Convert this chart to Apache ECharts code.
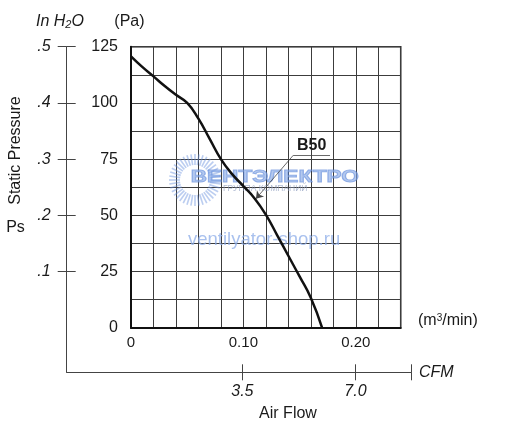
<!DOCTYPE html>
<html><head><meta charset="utf-8">
<script src="https://cdn.jsdelivr.net/npm/echarts@6/dist/echarts.min.js"></script>
<style>html,body{margin:0;padding:0;background:#fff}#c{width:515px;height:434px}</style>
</head><body><div id="c"></div>
<script>
// ---- data ----
const flow     = [0, 0.01, 0.02, 0.03, 0.04, 0.05, 0.06, 0.07, 0.08, 0.09, 0.10, 0.11, 0.12, 0.13, 0.14, 0.15, 0.16, 0.17];
const pressure = [120.7, 116.0, 111.8, 107.5, 103.6, 100.0, 93.0, 84.0, 75.0, 68.3, 63.0, 57.5, 50.3, 41.2, 32.0, 22.8, 13.3, 0.0];
const seriesName = 'B50';
const flowTickLabels = [0, 0.10, 0.20];          // m3/min
const paTickLabels = [0, 25, 50, 75, 100, 125];  // Pa
const inH2OTickLabels = [0.1, 0.2, 0.3, 0.4, 0.5];
const cfmTickLabels = [3.5, 7.0];

const FONT = 'Liberation Sans, Arial, Helvetica, sans-serif';
const TXT = '#1a1a1a';

const chart = echarts.init(document.getElementById('c'), null, {renderer: 'canvas'});

const curve = flow.map((f, i) => [f, pressure[i]]);

const outerX = {min: -1.94, max: 8.73};
const outerY = {min: -0.0788, max: 0.5};
const cfmTicks = cfmTickLabels.concat([outerX.max]);

// watermark sunburst rays (decoration)
const rays = [];
for (let a = 0; a < 360; a += 9) {
  const r = a * Math.PI / 180;
  rays.push({type: 'line', z: 1, silent: true,
    shape: {x1: 195 + 15 * Math.cos(r), y1: 180 + 15 * Math.sin(r), x2: 195 + 26 * Math.cos(r), y2: 180 + 26 * Math.sin(r)},
    style: {stroke: 'rgba(105,145,222,0.45)', lineWidth: 1.6}});
}

const option = {
  animation: false,
  backgroundColor: '#fff',
  grid: [
    {left: 131, top: 46.7, width: 269.7, height: 281, show: true, borderColor: '#111', borderWidth: 1.5, backgroundColor: 'transparent'},
    {left: 66.7, top: 46.7, width: 344.6, height: 325.6},
    {left: 66.7, top: 46.7, width: 344.6, height: 325.6}
  ],
  xAxis: [
    {type: 'value', gridIndex: 0, min: 0, max: 0.24, interval: 0.02,
      axisLine: {show: true, onZero: false, lineStyle: {color: '#111', width: 2}},
      axisTick: {show: false},
      axisLabel: {customValues: flowTickLabels, formatter: v => v === 0 ? '0' : v.toFixed(2), margin: 8, fontSize: 15, color: TXT, fontFamily: FONT},
      splitLine: {show: true, lineStyle: {color: '#3c3c3c', width: 1}}},
    {type: 'value', gridIndex: 1, min: outerX.min, max: outerX.max,
      axisLine: {show: true, onZero: false, lineStyle: {color: '#444', width: 1}},
      axisTick: {show: true, customValues: cfmTicks, length: 8, lineStyle: {color: '#444', width: 1}},
      axisLabel: {customValues: cfmTickLabels, formatter: v => v.toFixed(1), margin: 11, fontSize: 16, fontStyle: 'italic', color: TXT, fontFamily: FONT},
      splitLine: {show: false}},
    {type: 'value', gridIndex: 2, min: outerX.min, max: outerX.max,
      axisLine: {show: false, onZero: false},
      axisTick: {show: true, inside: true, customValues: cfmTicks, length: 8, lineStyle: {color: '#444', width: 1}},
      axisLabel: {show: false},
      splitLine: {show: false}}
  ],
  yAxis: [
    {type: 'value', gridIndex: 0, min: 0, max: 125, interval: 12.5,
      axisLine: {show: true, onZero: false, lineStyle: {color: '#111', width: 2}},
      axisTick: {show: false},
      axisLabel: {customValues: paTickLabels, margin: 13, fontSize: 16, color: TXT, fontFamily: FONT},
      splitLine: {show: true, lineStyle: {color: '#3c3c3c', width: 1}}},
    {type: 'value', gridIndex: 1, min: outerY.min, max: outerY.max,
      axisLine: {show: true, onZero: false, lineStyle: {color: '#444', width: 1}},
      axisTick: {show: true, customValues: inH2OTickLabels, length: 9, lineStyle: {color: '#444', width: 1}},
      axisLabel: {customValues: inH2OTickLabels, formatter: v => '.' + Math.round(v * 10), margin: 16, fontSize: 16, fontStyle: 'italic', color: TXT, fontFamily: FONT},
      splitLine: {show: false}},
    {type: 'value', gridIndex: 2, min: outerY.min, max: outerY.max,
      axisLine: {show: false, onZero: false},
      axisTick: {show: true, inside: true, customValues: inH2OTickLabels, length: 9, lineStyle: {color: '#444', width: 1}},
      axisLabel: {show: false},
      splitLine: {show: false}}
  ],
  series: [{
    name: seriesName, type: 'line', xAxisIndex: 0, yAxisIndex: 0,
    data: curve, smooth: 0.5, symbol: 'none', z: 5,
    lineStyle: {color: '#111', width: 2.5},
    markLine: {
      silent: true, symbol: ['none', 'none'], animation: false,
      label: {show: false},
      lineStyle: {color: '#444', width: 0.8, type: 'solid'},
      emphasis: {disabled: true},
      data: [
        [{coord: [0.1444, 76.7], label: {show: true, formatter: seriesName, position: 'insideMiddleTop', distance: 2, fontWeight: 'bold', fontSize: 16, color: TXT, fontFamily: FONT}},
         {coord: [0.1771, 76.7], label: {show: true, formatter: seriesName, position: 'insideMiddleTop', distance: 2, fontWeight: 'bold', fontSize: 16, color: TXT, fontFamily: FONT}}],
        [{coord: [0.1444, 76.7], symbol: 'none'},
         {coord: [0.1112, 57.4], symbol: 'arrow', symbolSize: 7}]
      ]
    }
  }],
  graphic: rays.concat([
    {type: 'text', z: 1, silent: true, x: 190.7, y: 177.5, scaleX: 1.33,
      style: {text: 'ВЕНТЭЛЕКТРО', x: 0, y: 0, textAlign: 'left', textVerticalAlign: 'middle',
        font: 'bold 17px ' + FONT, fill: 'rgba(130,165,228,0.6)', stroke: 'rgba(80,125,215,0.6)', lineWidth: 1}},
    {type: 'text', z: 1, silent: true, x: 223, y: 189,
      style: {text: 'ГРУППА КОМПАНИЙ', textAlign: 'left', textVerticalAlign: 'middle', font: '8.5px ' + FONT, fill: 'rgba(140,155,190,0.7)'}},
    {type: 'text', z: 1, silent: true, x: 188, y: 239.5,
      style: {text: 'ventilyator-shop.ru', textAlign: 'left', textVerticalAlign: 'middle', font: '18.5px ' + FONT, fill: 'rgba(140,172,232,0.75)'}},
    // axis titles
    {type: 'text', x: 36, y: 22, style: {text: '{a|In H}{s|2}{a|O}', textAlign: 'left', textVerticalAlign: 'middle',
      rich: {a: {fontSize: 16, fontStyle: 'italic', fontFamily: FONT, fill: TXT, color: TXT},
             s: {fontSize: 11, fontStyle: 'italic', fontFamily: FONT, fill: TXT, color: TXT, padding: [5, 0, 0, 0]}}}},
    {type: 'text', x: 114.3, y: 22, style: {text: '(Pa)', textAlign: 'left', textVerticalAlign: 'middle', font: '16px ' + FONT, fill: TXT}},
    {type: 'text', x: 15.5, y: 150.5, rotation: Math.PI / 2, style: {text: 'Static Pressure', textAlign: 'center', textVerticalAlign: 'middle', font: '16px ' + FONT, fill: TXT}},
    {type: 'text', x: 15.5, y: 228, style: {text: 'Ps', textAlign: 'center', textVerticalAlign: 'middle', font: '16px ' + FONT, fill: TXT}},
    {type: 'text', x: 418, y: 321, style: {text: '{a|(m}{s|3}{a|/min)}', textAlign: 'left', textVerticalAlign: 'middle',
      rich: {a: {fontSize: 16, fontFamily: FONT, fill: TXT, color: TXT},
             s: {fontSize: 10, fontFamily: FONT, fill: TXT, color: TXT, padding: [0, 0, 6, 0]}}}},
    {type: 'text', x: 288, y: 414, style: {text: 'Air Flow', textAlign: 'center', textVerticalAlign: 'middle', font: '16px ' + FONT, fill: TXT}},
    {type: 'text', x: 419, y: 372.5, style: {text: 'CFM', textAlign: 'left', textVerticalAlign: 'middle', font: 'italic 16px ' + FONT, fill: TXT}}
  ])
};
chart.setOption(option);
</script>
</body></html>
